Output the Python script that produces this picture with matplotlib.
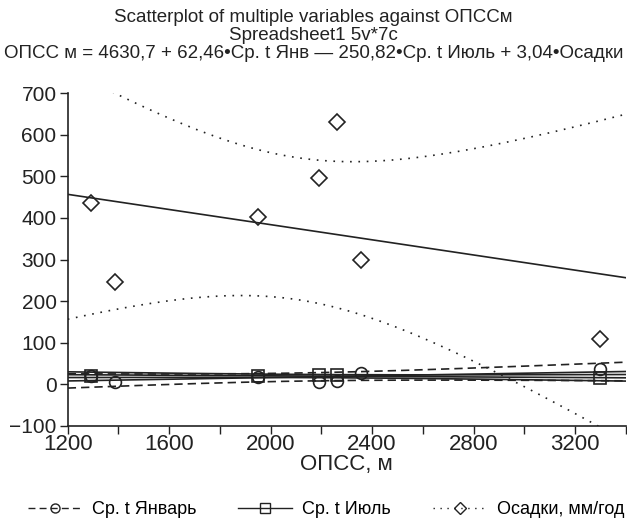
import matplotlib
matplotlib.use("Agg")
import matplotlib.pyplot as plt
import numpy as np
from matplotlib.ticker import MultipleLocator

plt.rcParams['font.family'] = ['Liberation Sans', 'DejaVu Sans']

# data (7 cases); nan = no mark visible
opss = [1290, 1385, 1950, 2190, 2260, 2355, 3300]
t_jan = [20, 6, 18, 6, 8, 27, 36]
t_jul = [21, np.nan, 19, 22, 22, np.nan, 14]
osadki = [437, 247, 403, 495, 631, 298, 110]

series_names = ['Ср. t Январь', 'Ср. t Июль', 'Осадки, мм/год']
title_lines = [
    'Scatterplot of multiple variables against ОПССм',
    'Spreadsheet1 5v*7c',
    'ОПСС м = 4630,7 + 62,46•Ср. t Янв — 250,82•Ср. t Июль + 3,04•Осадки',
]

# Student t, two-sided 95%, by degrees of freedom
T95 = {3: 3.1824, 4: 2.7764, 5: 2.5706}


def fit_with_band(x, y, xs):
    x = np.asarray(x, float)
    y = np.asarray(y, float)
    ok = ~np.isnan(y)
    x, y = x[ok], y[ok]
    n = len(x)
    b, a = np.polyfit(x, y, 1)
    resid = y - (a + b * x)
    s = np.sqrt(np.sum(resid ** 2) / (n - 2))
    sxx = np.sum((x - x.mean()) ** 2)
    yhat = a + b * xs
    hw = T95[n - 2] * s * np.sqrt(1.0 / n + (xs - x.mean()) ** 2 / sxx)
    return yhat, yhat - hw, yhat + hw


fig = plt.figure(figsize=(6.27, 5.27), dpi=100)
ax = fig.add_axes([0.108, 0.192, 0.890, 0.631])

ink = '#222222'
xs = np.linspace(1200, 3400, 300)
styles = [
    dict(marker='o', ms=8.5, band=(0, (5, 3))),
    dict(marker='s', ms=8.5, band='-'),
    dict(marker='D', ms=8.5, band=(0, (1, 4))),
]
handles = []
for vals, st, name in zip([t_jan, t_jul, osadki], styles, series_names):
    yhat, lo, hi = fit_with_band(opss, vals, xs)
    ax.plot(xs, yhat, color=ink, lw=1.2)
    ax.plot(xs, lo, color=ink, lw=1.2, linestyle=st['band'])
    ax.plot(xs, hi, color=ink, lw=1.2, linestyle=st['band'])
    ax.plot(opss, vals, linestyle='none', marker=st['marker'], ms=st['ms'],
            mfc='none', mec=ink, mew=1.2)
    h, = ax.plot([], [], color=ink, lw=1.0, linestyle=st['band'],
                 marker=st['marker'], ms=6.5, mfc='none', mec=ink,
                 mew=1.0, label=name)
    handles.append(h)

ax.set_xlim(1200, 3400)
ax.set_ylim(-100, 700)
ax.xaxis.set_minor_locator(MultipleLocator(200))
ax.yaxis.set_major_locator(MultipleLocator(100))
ax.set_xticks([1200, 1600, 2000, 2400, 2800, 3200])
ax.tick_params(which='both', direction='out', length=6, width=1.0,
               colors=ink)
ax.tick_params(axis='y', labelsize=15, pad=2)
ax.tick_params(axis='x', labelsize=16, pad=0)
for side in ['top', 'right']:
    ax.spines[side].set_visible(False)
for side in ['left', 'bottom']:
    ax.spines[side].set_linewidth(1.2)
    ax.spines[side].set_color(ink)
ax.set_yticklabels(['\u2212100' if v < 0 else str(int(v)) for v in ax.get_yticks()])

ax.set_xlabel('ОПСС, м', fontsize=16, color=ink, labelpad=-1)
for i, line in enumerate(title_lines):
    fig.text(0.5, 1 - (17 + 18 * i) / 527, line, ha='center', va='center',
             fontsize=13.5, color=ink)

fig.legend(handles=handles, loc='center', ncol=3, frameon=False,
           fontsize=13, handlelength=3.0, handletextpad=0.55, columnspacing=2.3,
           bbox_to_anchor=(0.52, 1 - 510 / 527))

fig.savefig('out.png', dpi=100)
